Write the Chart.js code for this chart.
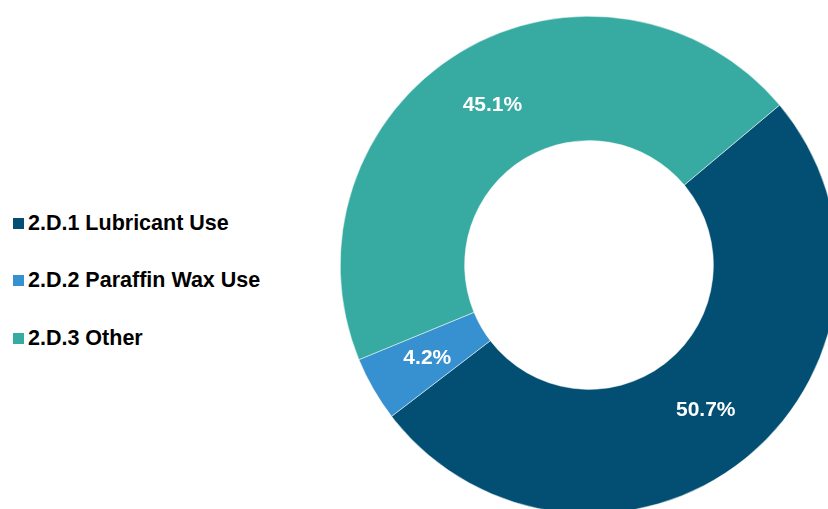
<!DOCTYPE html>
<html>
<head>
<meta charset="utf-8">
<script src="https://cdn.jsdelivr.net/npm/chart.js@4"></script>
<style>
html, body { margin:0; padding:0; width:828px; height:509px; overflow:hidden; background:#fff; }
#wrap { position:absolute; left:340px; top:16px; width:498px; height:498px; }
#legend { position:absolute; left:13px; top:0; font-family:"Liberation Sans", Arial, sans-serif; font-weight:bold; font-size:21.5px; color:#000; }
.item { position:absolute; left:0; white-space:nowrap; height:20px; line-height:20px; display:flex; align-items:center; }
.box { width:11px; height:11px; margin-right:4px; flex:none; }
</style>
</head>
<body>
<div id="legend"></div>
<div id="wrap"><canvas id="c"></canvas></div>
<script>
const categories = ["2.D.1 Lubricant Use", "2.D.2 Paraffin Wax Use", "2.D.3 Other"];
const shares = [50.7, 4.2, 45.1];
const sliceLabels = ["50.7%", "4.2%", "45.1%"];
const colors = ["#034F73", "#3790D0", "#37ABA2"];

// legend as real text
const legend = document.getElementById('legend');
const legendTops = [213, 270, 328];
categories.forEach((name, i) => {
  const d = document.createElement('div');
  d.className = 'item';
  d.style.top = legendTops[i] + 'px';
  const b = document.createElement('span');
  b.className = 'box';
  b.style.background = colors[i];
  const t = document.createElement('span');
  t.textContent = name;
  d.appendChild(b); d.appendChild(t);
  legend.appendChild(d);
});

const labelPlugin = {
  id: 'sliceLabels',
  afterDatasetsDraw(chart) {
    const ctx = chart.ctx;
    const meta = chart.getDatasetMeta(0);
    ctx.save();
    ctx.font = 'bold 21px "Liberation Sans", Arial, sans-serif';
    ctx.fillStyle = '#ffffff';
    ctx.textAlign = 'center';
    ctx.textBaseline = 'middle';
    meta.data.forEach((arc, i) => {
      const p = arc.tooltipPosition();
      ctx.fillText(sliceLabels[i], p.x, p.y);
    });
    ctx.restore();
  }
};

new Chart(document.getElementById('c'), {
  type: 'doughnut',
  data: {
    labels: categories,
    datasets: [{
      data: shares,
      backgroundColor: colors,
      borderColor: '#ffffff',
      borderWidth: 0.5
    }]
  },
  options: {
    responsive: true,
    maintainAspectRatio: false,
    animation: false,
    rotation: 50,
    cutout: '50%',
    layout: { padding: 0 },
    plugins: {
      legend: { display: false },
      tooltip: { enabled: false },
      title: { display: false }
    }
  },
  plugins: [labelPlugin]
});
</script>
</body>
</html>
